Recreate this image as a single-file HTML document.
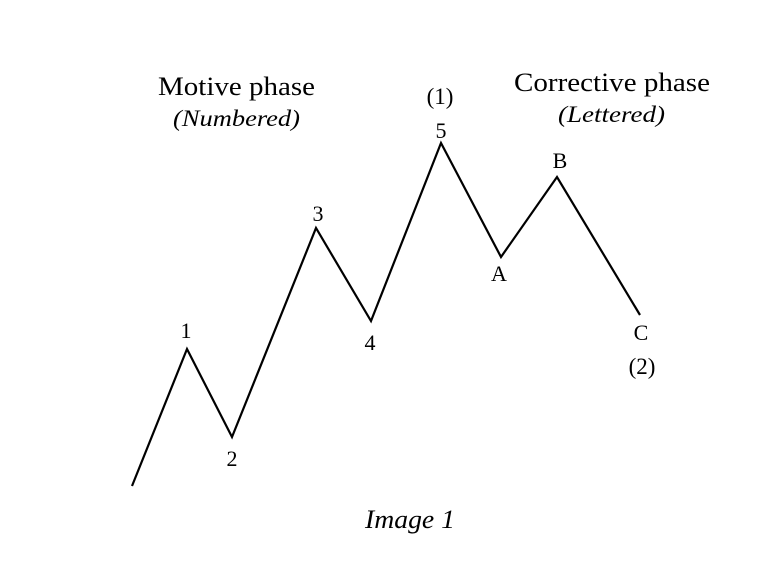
<!DOCTYPE html>
<html><head><meta charset="utf-8"><style>
html,body{margin:0;padding:0;background:#fff;}
svg{display:block;}
text{font-family:"Liberation Serif",serif;fill:#000;}
</style></head><body>
<svg width="764" height="566" viewBox="0 0 764 566" xmlns="http://www.w3.org/2000/svg">
<rect width="764" height="566" fill="#fff"/>
<polyline points="132,486 187,349 232,437 316,228 371,321 441,143 501,257 557,177 640,315" fill="none" stroke="#000" stroke-width="2.2" stroke-linejoin="miter"/>
<text x="158" y="95" font-size="26" textLength="157" lengthAdjust="spacingAndGlyphs">Motive phase</text>
<text x="173" y="126" font-size="23" font-style="italic" textLength="127" lengthAdjust="spacingAndGlyphs">(Numbered)</text>
<text x="440" y="104" font-size="23" text-anchor="middle">(1)</text>
<text x="441" y="138" font-size="22" text-anchor="middle">5</text>
<text x="514" y="91" font-size="26" textLength="196" lengthAdjust="spacingAndGlyphs">Corrective phase</text>
<text x="558" y="122" font-size="23" font-style="italic" textLength="107" lengthAdjust="spacingAndGlyphs">(Lettered)</text>
<text x="318" y="221" font-size="22" text-anchor="middle">3</text>
<text x="186" y="338" font-size="22" text-anchor="middle">1</text>
<text x="232" y="466" font-size="22" text-anchor="middle">2</text>
<text x="370" y="350" font-size="22" text-anchor="middle">4</text>
<text x="499" y="281" font-size="22" text-anchor="middle">A</text>
<text x="560" y="168" font-size="22" text-anchor="middle">B</text>
<text x="641" y="340" font-size="22" text-anchor="middle">C</text>
<text x="642" y="374" font-size="23" text-anchor="middle">(2)</text>
<text x="365" y="528" font-size="26" font-style="italic" textLength="90" lengthAdjust="spacingAndGlyphs">Image 1</text>
</svg>
</body></html>
